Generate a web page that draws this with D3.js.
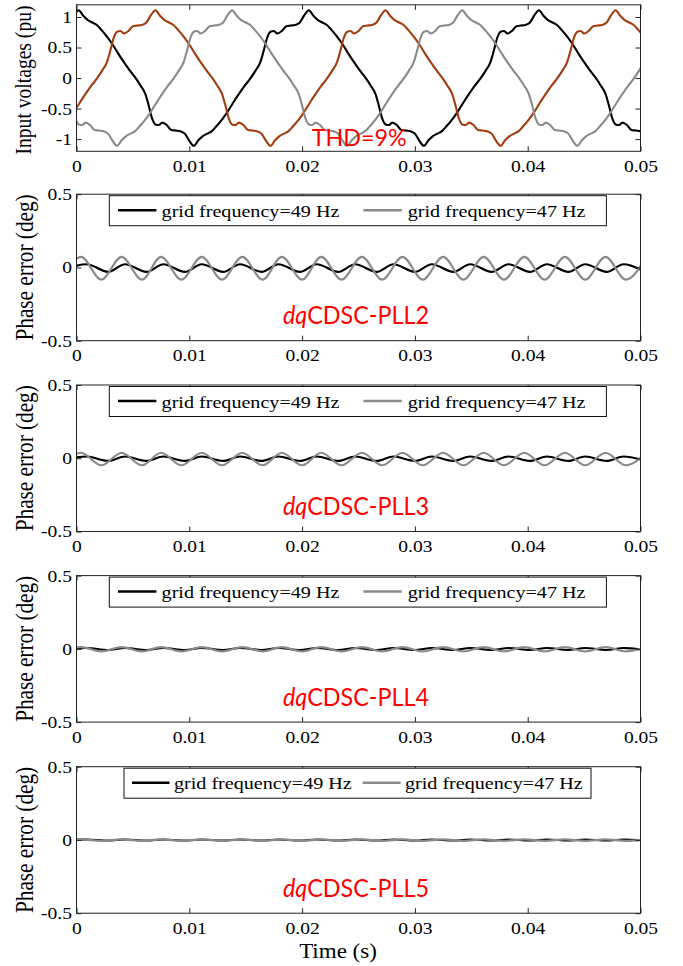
<!DOCTYPE html>
<html><head><meta charset="utf-8">
<script src="https://cdn.jsdelivr.net/npm/d3@7"></script>
<style>html,body{margin:0;padding:0;background:#fff}svg{display:block}</style>
</head><body><svg id="c" width="683" height="966"></svg>
<script>
// ---------------- data ----------------
const timeTicks = [0, 0.01, 0.02, 0.03, 0.04, 0.05];
const timeTickLabels = ["0", "0.01", "0.02", "0.03", "0.04", "0.05"];
const voltTicks = [-1, -0.5, 0, 0.5, 1];
const voltTickLabels = ["-1", "-0.5", "0", "0.5", "1"];
const errTicks = [-0.5, 0, 0.5];
const errTickLabels = ["-0.5", "0", "0.5"];
const legendLabels = ["grid frequency=49 Hz", "grid frequency=47 Hz"];
const panelNames = ["CDSC-PLL2", "CDSC-PLL3", "CDSC-PLL4", "CDSC-PLL5"];
const thdLabel = "THD=9%";

const voltBlack = [[-0.0006,0.91],[-0.0002,1.03],
[0.0002,1.11],[0.0006,1.02],[0.0010,0.95],[0.0014,0.91],[0.0018,0.87],[0.0022,0.79],[0.0027,0.68],[0.0032,0.55],[0.0037,0.40],[0.0042,0.26],[0.0047,0.13],[0.0052,0.01],[0.0057,-0.13],[0.0061,-0.26],[0.0064,-0.45],[0.0067,-0.66],[0.0070,-0.76],[0.0073,-0.77],[0.0076,-0.73],[0.0080,-0.77],[0.0084,-0.85],[0.0088,-0.86],[0.0092,-0.87],[0.0096,-0.91],[0.0100,-1.03],
[0.0104,-1.11],[0.0108,-1.02],[0.0112,-0.95],[0.0116,-0.91],[0.0120,-0.87],[0.0124,-0.79],[0.0129,-0.68],[0.0134,-0.55],[0.0139,-0.40],[0.0144,-0.26],[0.0149,-0.13],[0.0154,-0.01],[0.0159,0.13],[0.0163,0.26],[0.0166,0.45],[0.0169,0.66],[0.0172,0.76],[0.0175,0.77],[0.0178,0.73],[0.0182,0.77],[0.0186,0.85],[0.0190,0.86],[0.0194,0.87],[0.0198,0.91],[0.0202,1.03],
[0.0206,1.11],[0.0210,1.02],[0.0214,0.95],[0.0218,0.91],[0.0222,0.87],[0.0226,0.79],[0.0231,0.68],[0.0236,0.55],[0.0241,0.40],[0.0246,0.26],[0.0251,0.13],[0.0256,0.01],[0.0261,-0.13],[0.0265,-0.26],[0.0268,-0.45],[0.0271,-0.66],[0.0274,-0.76],[0.0277,-0.77],[0.0280,-0.73],[0.0284,-0.77],[0.0288,-0.85],[0.0292,-0.86],[0.0296,-0.87],[0.0300,-0.91],[0.0304,-1.03],
[0.0308,-1.11],[0.0312,-1.02],[0.0316,-0.95],[0.0320,-0.91],[0.0324,-0.87],[0.0328,-0.79],[0.0333,-0.68],[0.0338,-0.55],[0.0343,-0.40],[0.0348,-0.26],[0.0353,-0.13],[0.0358,-0.01],[0.0363,0.13],[0.0367,0.26],[0.0370,0.45],[0.0373,0.66],[0.0376,0.76],[0.0379,0.77],[0.0382,0.73],[0.0386,0.77],[0.0390,0.85],[0.0394,0.86],[0.0398,0.87],[0.0402,0.91],[0.0406,1.03],
[0.0410,1.11],[0.0414,1.02],[0.0418,0.95],[0.0422,0.91],[0.0426,0.87],[0.0430,0.79],[0.0435,0.68],[0.0440,0.55],[0.0445,0.40],[0.0450,0.26],[0.0455,0.13],[0.0460,0.01],[0.0465,-0.13],[0.0469,-0.26],[0.0472,-0.45],[0.0475,-0.66],[0.0478,-0.76],[0.0481,-0.77],[0.0484,-0.73],[0.0488,-0.77],[0.0492,-0.85],[0.0496,-0.86],[0.0500,-0.87],[0.0504,-0.91]];

const voltBrown = [[-0.0032,-1.11],[-0.0028,-1.02],[-0.0024,-0.95],[-0.0020,-0.91],[-0.0016,-0.87],[-0.0012,-0.79],[-0.0007,-0.68],[-0.0002,-0.55],[0.0003,-0.40],[0.0008,-0.26],[0.0013,-0.13],[0.0018,-0.01],[0.0023,0.13],[0.0027,0.26],[0.0030,0.45],[0.0033,0.66],[0.0036,0.76],[0.0039,0.77],[0.0042,0.73],[0.0046,0.77],[0.0050,0.85],[0.0054,0.86],[0.0058,0.87],[0.0062,0.91],[0.0066,1.03],
[0.0070,1.11],[0.0074,1.02],[0.0078,0.95],[0.0082,0.91],[0.0086,0.87],[0.0090,0.79],[0.0095,0.68],[0.0100,0.55],[0.0105,0.40],[0.0110,0.26],[0.0115,0.13],[0.0120,0.01],[0.0125,-0.13],[0.0129,-0.26],[0.0132,-0.45],[0.0135,-0.66],[0.0138,-0.76],[0.0141,-0.77],[0.0144,-0.73],[0.0148,-0.77],[0.0152,-0.85],[0.0156,-0.86],[0.0160,-0.87],[0.0164,-0.91],[0.0168,-1.03],
[0.0172,-1.11],[0.0176,-1.02],[0.0180,-0.95],[0.0184,-0.91],[0.0188,-0.87],[0.0192,-0.79],[0.0197,-0.68],[0.0202,-0.55],[0.0207,-0.40],[0.0212,-0.26],[0.0217,-0.13],[0.0222,-0.01],[0.0227,0.13],[0.0231,0.26],[0.0234,0.45],[0.0237,0.66],[0.0240,0.76],[0.0243,0.77],[0.0246,0.73],[0.0250,0.77],[0.0254,0.85],[0.0258,0.86],[0.0262,0.87],[0.0266,0.91],[0.0270,1.03],
[0.0274,1.11],[0.0278,1.02],[0.0282,0.95],[0.0286,0.91],[0.0290,0.87],[0.0294,0.79],[0.0299,0.68],[0.0304,0.55],[0.0309,0.40],[0.0314,0.26],[0.0319,0.13],[0.0324,0.01],[0.0329,-0.13],[0.0333,-0.26],[0.0336,-0.45],[0.0339,-0.66],[0.0342,-0.76],[0.0345,-0.77],[0.0348,-0.73],[0.0352,-0.77],[0.0356,-0.85],[0.0360,-0.86],[0.0364,-0.87],[0.0368,-0.91],[0.0372,-1.03],
[0.0376,-1.11],[0.0380,-1.02],[0.0384,-0.95],[0.0388,-0.91],[0.0392,-0.87],[0.0396,-0.79],[0.0401,-0.68],[0.0406,-0.55],[0.0411,-0.40],[0.0416,-0.26],[0.0421,-0.13],[0.0426,-0.01],[0.0431,0.13],[0.0435,0.26],[0.0438,0.45],[0.0441,0.66],[0.0444,0.76],[0.0447,0.77],[0.0450,0.73],[0.0454,0.77],[0.0458,0.85],[0.0462,0.86],[0.0466,0.87],[0.0470,0.91],[0.0474,1.03],
[0.0478,1.11],[0.0482,1.02],[0.0486,0.95],[0.0490,0.91],[0.0494,0.87],[0.0498,0.79],[0.0503,0.68]];

const voltGray = [[-0.0007,-0.26],[-0.0004,-0.45],[-0.0001,-0.66],[0.0002,-0.76],[0.0005,-0.77],[0.0008,-0.73],[0.0012,-0.77],[0.0016,-0.85],[0.0020,-0.86],[0.0024,-0.87],[0.0028,-0.91],[0.0032,-1.03],
[0.0036,-1.11],[0.0040,-1.02],[0.0044,-0.95],[0.0048,-0.91],[0.0052,-0.87],[0.0056,-0.79],[0.0061,-0.68],[0.0066,-0.55],[0.0071,-0.40],[0.0076,-0.26],[0.0081,-0.13],[0.0086,-0.01],[0.0091,0.13],[0.0095,0.26],[0.0098,0.45],[0.0101,0.66],[0.0104,0.76],[0.0107,0.77],[0.0110,0.73],[0.0114,0.77],[0.0118,0.85],[0.0122,0.86],[0.0126,0.87],[0.0130,0.91],[0.0134,1.03],
[0.0138,1.11],[0.0142,1.02],[0.0146,0.95],[0.0150,0.91],[0.0154,0.87],[0.0158,0.79],[0.0163,0.68],[0.0168,0.55],[0.0173,0.40],[0.0178,0.26],[0.0183,0.13],[0.0188,0.01],[0.0193,-0.13],[0.0197,-0.26],[0.0200,-0.45],[0.0203,-0.66],[0.0206,-0.76],[0.0209,-0.77],[0.0212,-0.73],[0.0216,-0.77],[0.0220,-0.85],[0.0224,-0.86],[0.0228,-0.87],[0.0232,-0.91],[0.0236,-1.03],
[0.0240,-1.11],[0.0244,-1.02],[0.0248,-0.95],[0.0252,-0.91],[0.0256,-0.87],[0.0260,-0.79],[0.0265,-0.68],[0.0270,-0.55],[0.0275,-0.40],[0.0280,-0.26],[0.0285,-0.13],[0.0290,-0.01],[0.0295,0.13],[0.0299,0.26],[0.0302,0.45],[0.0305,0.66],[0.0308,0.76],[0.0311,0.77],[0.0314,0.73],[0.0318,0.77],[0.0322,0.85],[0.0326,0.86],[0.0330,0.87],[0.0334,0.91],[0.0338,1.03],
[0.0342,1.11],[0.0346,1.02],[0.0350,0.95],[0.0354,0.91],[0.0358,0.87],[0.0362,0.79],[0.0367,0.68],[0.0372,0.55],[0.0377,0.40],[0.0382,0.26],[0.0387,0.13],[0.0392,0.01],[0.0397,-0.13],[0.0401,-0.26],[0.0404,-0.45],[0.0407,-0.66],[0.0410,-0.76],[0.0413,-0.77],[0.0416,-0.73],[0.0420,-0.77],[0.0424,-0.85],[0.0428,-0.86],[0.0432,-0.87],[0.0436,-0.91],[0.0440,-1.03],
[0.0444,-1.11],[0.0448,-1.02],[0.0452,-0.95],[0.0456,-0.91],[0.0460,-0.87],[0.0464,-0.79],[0.0469,-0.68],[0.0474,-0.55],[0.0479,-0.40],[0.0484,-0.26],[0.0489,-0.13],[0.0494,-0.01],[0.0499,0.13],[0.0503,0.26]];

// phase error (deg): 49 Hz (black) and 47 Hz (gray) for each PLL
const errPLL2_49 = [[0,0.012],[0.0009,0.022],[0.0028,-0.030],[0.0043,0.022],[0.0062,-0.030],[0.0077,0.022],[0.0096,-0.030],[0.0111,0.022],[0.0130,-0.030],[0.0145,0.022],[0.0164,-0.030],[0.0179,0.022],[0.0198,-0.030],[0.0213,0.022],[0.0232,-0.030],[0.0247,0.022],[0.0266,-0.030],[0.0281,0.022],[0.0300,-0.030],[0.0315,0.022],[0.0334,-0.030],[0.0349,0.022],[0.0368,-0.030],[0.0383,0.022],[0.0402,-0.030],[0.0417,0.022],[0.0436,-0.030],[0.0451,0.022],[0.0470,-0.030],[0.0485,0.022],[0.0504,-0.030]];
const errPLL2_47 = [[0,0.060],[0.0004,0.072],[0.0022,-0.083],[0.0040,0.072],[0.0058,-0.083],[0.0075,0.072],[0.0093,-0.083],[0.0111,0.072],[0.0129,-0.083],[0.0147,0.072],[0.0165,-0.083],[0.0182,0.072],[0.0200,-0.083],[0.0217,0.072],[0.0235,-0.083],[0.0253,0.072],[0.0271,-0.083],[0.0289,0.072],[0.0307,-0.083],[0.0325,0.072],[0.0343,-0.083],[0.0361,0.072],[0.0379,-0.083],[0.0397,0.072],[0.0415,-0.083],[0.0433,0.072],[0.0451,-0.083],[0.0469,0.072],[0.0487,-0.083],[0.0505,0.072]];
const errPLL3_49 = [[0,0.006],[0.0009,0.012],[0.0028,-0.018],[0.0043,0.012],[0.0062,-0.018],[0.0077,0.012],[0.0096,-0.018],[0.0111,0.012],[0.0130,-0.018],[0.0145,0.012],[0.0164,-0.018],[0.0179,0.012],[0.0198,-0.018],[0.0213,0.012],[0.0232,-0.018],[0.0247,0.012],[0.0266,-0.018],[0.0281,0.012],[0.0300,-0.018],[0.0315,0.012],[0.0334,-0.018],[0.0349,0.012],[0.0368,-0.018],[0.0383,0.012],[0.0402,-0.018],[0.0417,0.012],[0.0436,-0.018],[0.0451,0.012],[0.0470,-0.018],[0.0485,0.012],[0.0504,-0.018]];
const errPLL3_47 = [[0,0.030],[0.0004,0.038],[0.0022,-0.048],[0.0040,0.038],[0.0058,-0.048],[0.0075,0.038],[0.0093,-0.048],[0.0111,0.038],[0.0129,-0.048],[0.0147,0.038],[0.0165,-0.048],[0.0182,0.038],[0.0200,-0.048],[0.0217,0.038],[0.0235,-0.048],[0.0253,0.038],[0.0271,-0.048],[0.0289,0.038],[0.0307,-0.048],[0.0325,0.038],[0.0343,-0.048],[0.0361,0.038],[0.0379,-0.048],[0.0397,0.038],[0.0415,-0.048],[0.0433,0.038],[0.0451,-0.048],[0.0469,0.038],[0.0487,-0.048],[0.0505,0.038]];
const errPLL4_49 = [[0,0.004],[0.0009,0.006],[0.0028,-0.008],[0.0043,0.006],[0.0062,-0.008],[0.0077,0.006],[0.0096,-0.008],[0.0111,0.006],[0.0130,-0.008],[0.0145,0.006],[0.0164,-0.008],[0.0179,0.006],[0.0198,-0.008],[0.0213,0.006],[0.0232,-0.008],[0.0247,0.006],[0.0266,-0.008],[0.0281,0.006],[0.0300,-0.008],[0.0315,0.006],[0.0334,-0.008],[0.0349,0.006],[0.0368,-0.008],[0.0383,0.006],[0.0402,-0.008],[0.0417,0.006],[0.0436,-0.008],[0.0451,0.006],[0.0470,-0.008],[0.0485,0.006],[0.0504,-0.008]];
const errPLL4_47 = [[0,0.010],[0.0004,0.012],[0.0022,-0.017],[0.0040,0.012],[0.0058,-0.017],[0.0075,0.012],[0.0093,-0.017],[0.0111,0.012],[0.0129,-0.017],[0.0147,0.012],[0.0165,-0.017],[0.0182,0.012],[0.0200,-0.017],[0.0217,0.012],[0.0235,-0.017],[0.0253,0.012],[0.0271,-0.017],[0.0289,0.012],[0.0307,-0.017],[0.0325,0.012],[0.0343,-0.017],[0.0361,0.012],[0.0379,-0.017],[0.0397,0.012],[0.0415,-0.017],[0.0433,0.012],[0.0451,-0.017],[0.0469,0.012],[0.0487,-0.017],[0.0505,0.012]];
const errPLL5_49 = [[0,0.002],[0.0009,0.003],[0.0028,-0.004],[0.0043,0.003],[0.0062,-0.004],[0.0077,0.003],[0.0096,-0.004],[0.0111,0.003],[0.0130,-0.004],[0.0145,0.003],[0.0164,-0.004],[0.0179,0.003],[0.0198,-0.004],[0.0213,0.003],[0.0232,-0.004],[0.0247,0.003],[0.0266,-0.004],[0.0281,0.003],[0.0300,-0.004],[0.0315,0.003],[0.0334,-0.004],[0.0349,0.003],[0.0368,-0.004],[0.0383,0.003],[0.0402,-0.004],[0.0417,0.003],[0.0436,-0.004],[0.0451,0.003],[0.0470,-0.004],[0.0485,0.003],[0.0504,-0.004]];
const errPLL5_47 = [[0,0.003],[0.0004,0.004],[0.0022,-0.006],[0.0040,0.004],[0.0058,-0.006],[0.0075,0.004],[0.0093,-0.006],[0.0111,0.004],[0.0129,-0.006],[0.0147,0.004],[0.0165,-0.006],[0.0182,0.004],[0.0200,-0.006],[0.0217,0.004],[0.0235,-0.006],[0.0253,0.004],[0.0271,-0.006],[0.0289,0.004],[0.0307,-0.006],[0.0325,0.004],[0.0343,-0.006],[0.0361,0.004],[0.0379,-0.006],[0.0397,0.004],[0.0415,-0.006],[0.0433,0.004],[0.0451,-0.006],[0.0469,0.004],[0.0487,-0.006],[0.0505,0.004]];

// ---------------- layout / style ----------------
const SX = 1.15; // horizontal stretch of the original figure's text
const serif = "'Liberation Serif','Times New Roman',serif";
const sans = "Lato,'Open Sans','Noto Sans',sans-serif";
const xLeft = 76.5, xRight = 640.5, panelH = 146.5;
const panelTops = [4.8, 194.2, 385, 575.6, 766.7];
const cBlack = "#000", cBrown = "#a23c0e", cGray = "#8a8a8a", cRed = "#ff0000";

const svg = d3.select("#c");
const x = d3.scaleLinear().domain([0, 0.05]).range([xLeft, xRight]);

function stext(g, px, py, str, size, anchor, family) {
  return g.append("text")
    .attr("transform", `translate(${px},${py}) scale(${SX},1)`)
    .attr("text-anchor", anchor || "start")
    .attr("font-family", family || serif)
    .attr("font-size", size)
    .text(str);
}

function drawPanel(i, yDomain, yTicks, yLabels, series, colors, ylabel, ylabelSize, ylabelLen, ylabelY) {
  const top = panelTops[i], bot = top + panelH;
  const y = d3.scaleLinear().domain(yDomain).range([bot, top]);
  const g = svg.append("g");
  const clipId = "clip" + i;
  g.append("clipPath").attr("id", clipId).append("rect")
    .attr("x", xLeft).attr("y", top).attr("width", xRight - xLeft).attr("height", panelH);

  const line = d3.line().x(d => x(d[0])).y(d => y(d[1])).curve(d3.curveMonotoneX);
  const lg = g.append("g").attr("clip-path", `url(#${clipId})`);
  series.forEach((s, k) => {
    lg.append("path").datum(s).attr("d", line).attr("fill", "none")
      .attr("stroke", colors[k]).attr("stroke-width", 2.1).attr("stroke-linejoin", "round");
  });

  const fmtX = d => timeTickLabels[timeTicks.indexOf(d)];
  const fmtY = d => yLabels[yTicks.indexOf(d)];
  const ax = g.append("g").attr("transform", `translate(0,${bot})`)
    .call(d3.axisBottom(x).tickValues(timeTicks).tickFormat(fmtX).tickSizeInner(-5).tickSizeOuter(0).tickPadding(8.5));
  g.append("g").attr("transform", `translate(0,${top})`)
    .call(d3.axisTop(x).tickValues(timeTicks).tickFormat("").tickSizeInner(-5).tickSizeOuter(0));
  const ay = g.append("g").attr("transform", `translate(${xLeft},0)`)
    .call(d3.axisLeft(y).tickValues(yTicks).tickFormat(fmtY).tickSizeInner(-5).tickSizeOuter(0).tickPadding(4));
  g.append("g").attr("transform", `translate(${xRight},0)`)
    .call(d3.axisRight(y).tickValues(yTicks).tickFormat("").tickSizeInner(-5).tickSizeOuter(0));
  g.selectAll(".domain").remove();
  g.selectAll(".tick line").attr("stroke", "#222");
  [ax, ay].forEach(a => a.selectAll(".tick text")
    .attr("font-family", serif).attr("font-size", 17).attr("fill", "#000")
    .attr("transform", `scale(${SX},1)`));
  g.append("rect").attr("x", xLeft).attr("y", top).attr("width", xRight - xLeft).attr("height", panelH)
    .attr("fill", "none").attr("stroke", "#222").attr("stroke-width", 1);

  const yl = i === 0 ? 31 : 33;
  g.append("text")
    .attr("transform", `translate(${yl},${ylabelY != null ? ylabelY : (top + bot) / 2}) scale(${SX},1) rotate(-90)`)
    .attr("text-anchor", "middle").attr("font-family", serif).attr("font-size", ylabelSize)
    .attr("textLength", ylabelLen).attr("lengthAdjust", "spacingAndGlyphs")
    .text(ylabel);
  return { g, y, top, bot };
}

// top panel
const p0 = drawPanel(0, [-1.2, 1.2], voltTicks, voltTickLabels, [voltBlack, voltBrown, voltGray],
  [cBlack, cBrown, cGray], "Input voltages (pu)", 20, 149, 80);
p0.g.append("text").attr("x", 311.7).attr("y", 145.7).attr("font-family", sans).attr("font-size", 24)
  .attr("fill", cRed).attr("textLength", 95).attr("lengthAdjust", "spacingAndGlyphs").text(thdLabel);

// phase error panels
const errSeries = [[errPLL2_49, errPLL2_47], [errPLL3_49, errPLL3_47], [errPLL4_49, errPLL4_47], [errPLL5_49, errPLL5_47]];
const legendBoxes = [
  { x0: 109.3, x1: 606.4, l1: [118, 156.4], t1: 161.6, l2: [363.4, 401.8], t2: 407.7 },
  { x0: 109.3, x1: 606.4, l1: [118, 156.4], t1: 161.6, l2: [363.4, 401.8], t2: 407.7 },
  { x0: 109.3, x1: 606.4, l1: [118, 156.4], t1: 161.6, l2: [363.4, 401.8], t2: 407.7 },
  { x0: 124, x1: 591, l1: [132, 169.5], t1: 174, l2: [362.6, 400.6], t2: 405 }
];
errSeries.forEach((s, k) => {
  const p = drawPanel(k + 1, [-0.5, 0.5], errTicks, errTickLabels, s, [cBlack, cGray], "Phase error (deg)", 21, 146);
  const L = legendBoxes[k];
  const lt = p.top + 1.5;
  p.g.append("rect").attr("x", L.x0).attr("y", lt).attr("width", L.x1 - L.x0).attr("height", 30)
    .attr("fill", "#fff").attr("stroke", "#111").attr("stroke-width", 1);
  p.g.append("line").attr("x1", L.l1[0]).attr("x2", L.l1[1]).attr("y1", lt + 14.5).attr("y2", lt + 14.5)
    .attr("stroke", cBlack).attr("stroke-width", 2.5);
  p.g.append("line").attr("x1", L.l2[0]).attr("x2", L.l2[1]).attr("y1", lt + 14.5).attr("y2", lt + 14.5)
    .attr("stroke", cGray).attr("stroke-width", 2.5);
  stext(p.g, L.t1, lt + 21, legendLabels[0], 17.5);
  stext(p.g, L.t2, lt + 21, legendLabels[1], 17.5);
  const t = p.g.append("text").attr("x", 283).attr("y", p.top + 130).attr("font-family", sans)
    .attr("font-size", 25).attr("fill", cRed).attr("textLength", 146).attr("lengthAdjust", "spacingAndGlyphs");
  t.append("tspan").attr("font-style", "italic").text("dq");
  t.append("tspan").text(panelNames[k]);
});

// x-axis title
stext(svg, 338, 958, "Time (s)", 20, "middle");
</script></body></html>
